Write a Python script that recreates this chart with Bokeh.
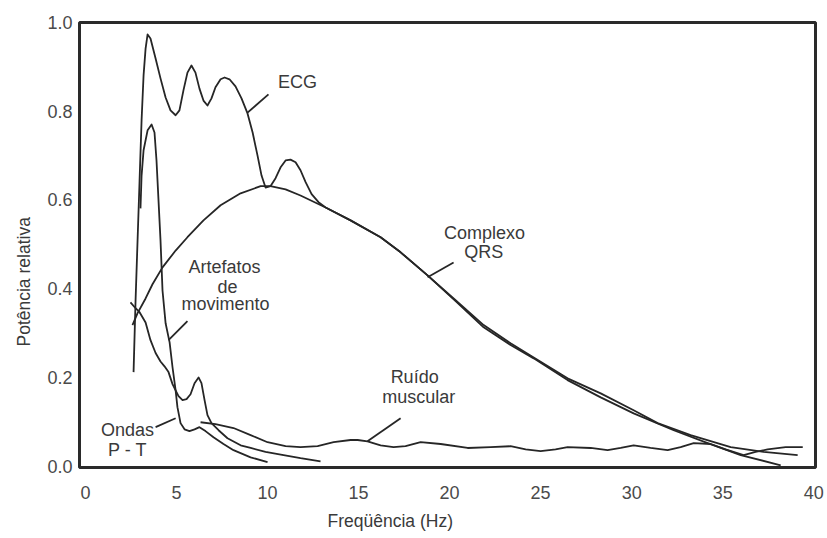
from bokeh.plotting import figure
from bokeh.models import Label, FixedTicker, NumeralTickFormatter, Title
from bokeh.embed import file_html
from bokeh.resources import INLINE

# ---------------- data ----------------
ecg_x = [2.64, 2.75, 2.86, 2.97, 3.08, 3.19, 3.30, 3.41, 3.57, 3.85, 4.12, 4.40, 4.67, 4.95,
         5.16, 5.38, 5.60, 5.82, 6.04, 6.26, 6.48, 6.70, 6.92, 7.14, 7.42, 7.64, 7.91, 8.24,
         8.57, 8.90, 9.18, 9.45, 9.67, 9.89, 10.16, 10.44, 10.71, 10.99, 11.26, 11.54, 11.81,
         12.09, 12.42, 12.80, 13.19, 14.56, 16.21, 17.31, 18.79, 20.33, 21.87, 23.35, 24.62,
         26.48, 28.30, 30.11, 31.43, 33.24, 35.44, 37.25, 39.12]
ecg_y = [0.212, 0.374, 0.509, 0.644, 0.779, 0.881, 0.941, 0.973, 0.964, 0.919, 0.874, 0.831,
         0.802, 0.791, 0.802, 0.847, 0.887, 0.903, 0.887, 0.851, 0.824, 0.813, 0.829, 0.854,
         0.872, 0.876, 0.872, 0.856, 0.829, 0.795, 0.752, 0.700, 0.655, 0.628, 0.631, 0.649,
         0.673, 0.689, 0.691, 0.685, 0.667, 0.640, 0.613, 0.595, 0.583, 0.554, 0.516, 0.482,
         0.430, 0.374, 0.318, 0.277, 0.245, 0.198, 0.164, 0.126, 0.097, 0.070, 0.043, 0.032,
         0.025]

qrs_x = [2.58, 2.86, 3.30, 3.68, 4.23, 4.95, 5.60, 6.48, 7.42, 8.52, 9.62, 10.16, 10.99,
         11.81, 13.19, 14.56, 16.21, 17.31, 18.79, 20.33, 21.87, 23.35, 24.62, 26.48, 28.30,
         30.11, 32.31, 34.18, 35.99, 38.19]
qrs_y = [0.318, 0.345, 0.378, 0.410, 0.448, 0.486, 0.516, 0.554, 0.588, 0.615, 0.631, 0.631,
         0.624, 0.610, 0.583, 0.554, 0.516, 0.482, 0.430, 0.372, 0.313, 0.273, 0.243, 0.194,
         0.155, 0.119, 0.081, 0.052, 0.025, 0.002]

art_x = [3.02, 3.08, 3.19, 3.41, 3.63, 3.79, 3.90, 4.01, 4.12, 4.18, 4.23, 4.40, 4.62, 4.78,
         4.95, 5.05, 5.22, 5.44, 5.71, 5.99, 6.26, 6.59, 7.03, 7.58, 8.13, 9.07, 10.0]
art_y = [0.581, 0.655, 0.712, 0.757, 0.770, 0.752, 0.689, 0.599, 0.509, 0.448, 0.396, 0.322,
         0.279, 0.223, 0.171, 0.133, 0.097, 0.083, 0.079, 0.083, 0.088, 0.079, 0.065, 0.050,
         0.036, 0.020, 0.009]

pt_x = [2.47, 2.75, 2.97, 3.30, 3.57, 3.85, 4.12, 4.34, 4.56, 4.78, 4.95, 5.11, 5.33, 5.55,
        5.77, 5.99, 6.21, 6.37, 6.54, 6.70, 6.92, 7.31, 7.80, 8.52, 9.07, 9.89, 10.88, 11.81,
        12.91]
pt_y = [0.369, 0.356, 0.347, 0.324, 0.284, 0.255, 0.236, 0.225, 0.212, 0.185, 0.171, 0.158,
        0.149, 0.151, 0.162, 0.187, 0.200, 0.187, 0.149, 0.115, 0.097, 0.081, 0.063, 0.047,
        0.041, 0.032, 0.025, 0.018, 0.011]

mus_x = [6.32, 7.14, 8.13, 9.07, 10.0, 10.99, 11.81, 12.75, 13.63, 14.56, 14.95, 15.49, 16.21,
         16.92, 17.58, 18.41, 19.51, 20.99, 22.25, 23.35, 24.18, 25.0, 25.82, 26.48, 27.75,
         28.68, 29.40, 30.11, 31.04, 31.98, 32.69, 33.41, 34.34, 35.16, 36.15, 36.81, 37.47,
         38.46, 39.40]
mus_y = [0.099, 0.095, 0.086, 0.070, 0.054, 0.045, 0.043, 0.045, 0.054, 0.059, 0.059, 0.056,
         0.047, 0.043, 0.045, 0.054, 0.050, 0.041, 0.043, 0.045, 0.038, 0.034, 0.038, 0.043,
         0.041, 0.036, 0.041, 0.047, 0.041, 0.036, 0.043, 0.052, 0.050, 0.038, 0.025, 0.032,
         0.038, 0.043, 0.043]

x_ticks = [0, 5, 10, 15, 20, 25, 30, 35, 40]
y_ticks = [0.0, 0.2, 0.4, 0.6, 0.8, 1.0]

# ---------------- styling ----------------
FONT = "Liberation Sans"
LINE = "#262626"
TEXT = "#3a3a3a"

p = figure(width=827, height=538, x_range=(-0.33, 40.1), y_range=(-0.003, 1.0),
           output_backend="svg", toolbar_location=None,
           min_border_left=79, min_border_right=12, min_border_top=22, min_border_bottom=71)
p.background_fill_color = "white"
p.border_fill_color = "white"
p.outline_line_color = "#2a2a2a"
p.outline_line_width = 3
p.xgrid.visible = False
p.ygrid.visible = False

for ax in (p.xaxis[0], p.yaxis[0]):
    ax.axis_line_color = None
    ax.major_tick_line_color = None
    ax.minor_tick_line_color = None
    ax.major_tick_out = 0
    ax.major_tick_in = 0
    ax.minor_tick_out = 0
    ax.major_label_text_font = FONT
    ax.major_label_text_font_size = "18px"
    ax.major_label_text_color = "#4a4a4a"

p.xaxis.ticker = FixedTicker(ticks=x_ticks)
p.yaxis.ticker = FixedTicker(ticks=y_ticks)
p.yaxis.formatter = NumeralTickFormatter(format="0.0")
p.xaxis.major_label_standoff = 18
p.yaxis.major_label_standoff = 7

for xs, ys in ((qrs_x, qrs_y), (ecg_x, ecg_y), (art_x, art_y), (pt_x, pt_y), (mus_x, mus_y)):
    p.line(xs, ys, line_color=LINE, line_width=1.8, line_join="round")

# leader lines
leaders = [((10.05, 8.90), (0.838, 0.797)),
           ((20.22, 18.79), (0.459, 0.426)),
           ((5.60, 4.56), (0.327, 0.284)),
           ((17.31, 15.49), (0.108, 0.056)),
           ((3.85, 4.95), (0.088, 0.108))]
for lx, ly in leaders:
    p.line(list(lx), list(ly), line_color=LINE, line_width=1.8)

# annotation texts
notes = [("ECG", 11.65, 0.865), ("Complexo", 21.92, 0.525), ("QRS", 21.87, 0.482),
         ("Artefatos", 7.64, 0.450), ("de", 7.80, 0.403), ("movimento", 7.69, 0.365),
         ("Ruído", 18.08, 0.200), ("muscular", 18.30, 0.155),
         ("Ondas", 2.31, 0.081), ("P - T", 2.31, 0.036)]
for t, x, y in notes:
    p.add_layout(Label(x=x, y=y, text=t, text_font=FONT, text_font_size="18px",
                       text_color=TEXT, text_align="center", text_baseline="middle"))

# axis titles (as side-panel titles so they can sit off-centre like the reference)
p.add_layout(Title(text="Freqüência (Hz)", text_font=FONT, text_font_size="17.5px",
                   text_color=TEXT, text_font_style="normal", align="left",
                   offset=248, standoff=15), "below")
p.add_layout(Title(text="Potência relativa", text_font=FONT, text_font_size="17.5px",
                   text_color=TEXT, text_font_style="normal", align="left",
                   offset=121, standoff=22), "left")

open("out.html", "w").write(file_html(p, INLINE))
